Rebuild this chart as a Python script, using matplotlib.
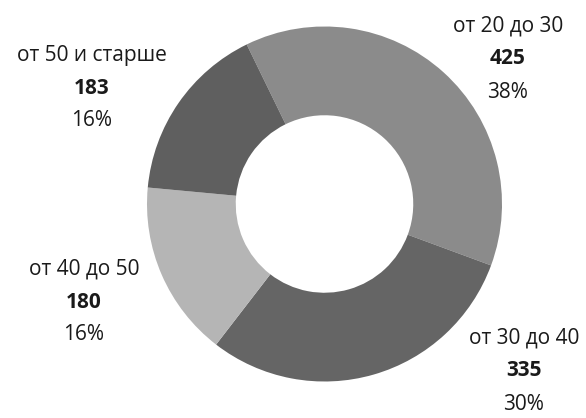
import matplotlib
matplotlib.use("Agg")
import matplotlib.pyplot as plt

# Age groups and counts
categories = ["от 20 до 30", "от 30 до 40", "от 40 до 50", "от 50 и старше"]
counts = [425, 335, 180, 183]
colors = ["#8b8b8b", "#656565", "#b5b5b5", "#5f5f5f"]

W, H = 586, 418
fig = plt.figure(figsize=(W / 100, H / 100), dpi=100)
ax = fig.add_axes([0, 0, 1, 1])

center = (324.5, H - 204)
radius = 177.5
ax.pie(
    counts,
    colors=colors,
    startangle=116,
    counterclock=False,
    center=center,
    radius=radius,
    wedgeprops=dict(width=radius * 0.5, linewidth=0),
)
ax.set_xlim(0, W)
ax.set_ylim(0, H)
ax.set_aspect("equal")
ax.axis("off")

# label anchor positions (x, y of first line, in pixels from top-left)
label_pos = [(508, 26), (524, 338), (84, 269), (92, 55)]
line_gap = 33
total = sum(counts)
font = "Open Sans"
fs = 15
for name, val, (x, y) in zip(categories, counts, label_pos):
    pct = f"{round(val / total * 100)}%"
    ax.text(x, H - y, name, ha="center", va="center", fontsize=fs, family=font, color="#1a1a1a")
    ax.text(x, H - y - line_gap, str(val), ha="center", va="center", fontsize=fs,
            family=font, fontweight="bold", color="#1a1a1a")
    ax.text(x, H - y - 2 * line_gap, pct, ha="center", va="center", fontsize=fs,
            family=font, color="#1a1a1a")

fig.savefig("out.png", dpi=100)
